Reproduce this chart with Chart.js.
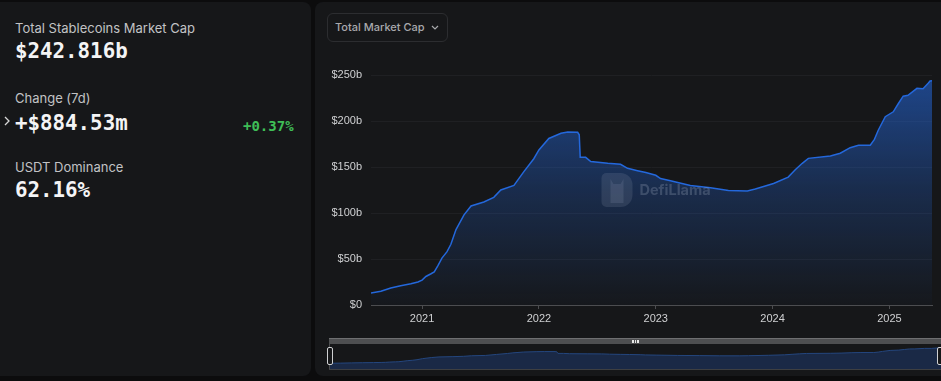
<!DOCTYPE html>
<html>
<head>
<meta charset="utf-8">
<script src="https://cdn.jsdelivr.net/npm/chart.js@4.4.1/dist/chart.umd.min.js"></script>
<style>
  html, body { margin:0; padding:0; background:#0c0c0d; width:941px; height:381px; overflow:hidden; }
  .card { position:absolute; background:#161719; border-radius:8px; }
  .lbl { position:absolute; left:15px; font-family:Inter, sans-serif; font-size:13px; line-height:1; color:#c2c3c5; white-space:nowrap; }
  .val { position:absolute; left:15px; font-family:"DejaVu Sans Mono", monospace; font-weight:bold; font-size:20.8px; line-height:1; color:#f4f4f5; white-space:nowrap; }
  .pct { position:absolute; left:243px; font-family:"DejaVu Sans Mono", monospace; font-weight:bold; font-size:14px; line-height:1; color:#3fbe57; white-space:nowrap; }
  .dd { position:absolute; left:327px; top:13px; width:119px; height:27px; border:1px solid #2c2d30; border-radius:6px; box-sizing:content-box; }
  .dd span { position:absolute; left:7px; top:8px; font-family:Inter, sans-serif; font-weight:500; font-size:11px; line-height:1; color:#a8a9ac; white-space:nowrap; }
  canvas { position:absolute; }
</style>
</head>
<body>
<div class="card" style="left:-10px; top:2px; width:321px; height:374px;"></div>
<div class="card" style="left:315px; top:2px; width:640px; height:374px;"></div>

<div class="lbl" style="top:22px;">Total Stablecoins Market Cap</div>
<div class="val" style="top:40.5px;">$242.816b</div>
<div class="lbl" style="top:92px;">Change (7d)</div>
<svg style="position:absolute; left:2px; top:115px;" width="10" height="12"><polyline points="3,2 7,6 3,10" fill="none" stroke="#d8d8d8" stroke-width="1.3"/></svg>
<div class="val" style="top:112.5px;">+$884.53m</div>
<div class="pct" style="top:119.1px;">+0.37%</div>
<div class="lbl" style="top:161px;">USDT Dominance</div>
<div class="val" style="top:180.2px;">62.16%</div>

<div class="dd"><span>Total Market Cap</span>
  <svg style="position:absolute; left:103px; top:11px;" width="8" height="6"><polyline points="1,1 4,4 7,1" fill="none" stroke="#a8a9ac" stroke-width="1.2"/></svg>
</div>

<canvas id="main" width="625" height="280" style="left:316px; top:50px; width:625px; height:280px;"></canvas>

<!-- data zoom slider -->
<div style="position:absolute; left:329px; top:338px; width:614px; height:6px; background:#4e4f51; border-top:1px solid #6e6f71; box-sizing:border-box;"></div>
<div style="position:absolute; left:632px; top:339.5px; width:1.5px; height:3.5px; background:#e8e8e8;"></div>
<div style="position:absolute; left:634.5px; top:339.5px; width:1.5px; height:3.5px; background:#e8e8e8;"></div>
<div style="position:absolute; left:637px; top:339.5px; width:1.5px; height:3.5px; background:#e8e8e8;"></div>
<div style="position:absolute; left:329px; top:344px; width:614px; height:26px; border-left:1px solid #4a4b4d; border-bottom:1px solid #3e3f41; box-sizing:border-box;"></div>
<canvas id="mini" width="611" height="25" style="left:330px; top:344px; width:611px; height:25px;"></canvas>
<div style="position:absolute; left:327px; top:347px; width:6px; height:18px; border:1px solid #cfd0d2; border-radius:2px; background:#161719; box-sizing:border-box;"></div>
<div style="position:absolute; left:937px; top:347px; width:6px; height:18px; border:1px solid #cfd0d2; border-radius:2px; background:#161719; box-sizing:border-box;"></div>

<script>
// ---- data ----
const dates = [
  "2020-07-25","2020-08-25","2020-09-25","2020-10-26","2020-11-27","2020-12-19",
  "2021-01-01","2021-01-13","2021-01-29","2021-02-08","2021-02-20","2021-03-04",
  "2021-03-20","2021-04-01","2021-04-17","2021-05-12","2021-06-03","2021-07-13",
  "2021-08-13","2021-09-04","2021-10-15","2021-11-15","2021-12-16","2022-01-01",
  "2022-02-01","2022-03-11","2022-04-01","2022-05-02","2022-05-07","2022-05-10",
  "2022-05-27","2022-06-12","2022-08-04","2022-09-13","2022-10-05","2022-11-05",
  "2022-12-01","2023-01-01","2023-01-16","2023-02-16","2023-04-19","2023-06-21",
  "2023-08-16","2023-10-14","2023-11-08","2024-01-04","2024-02-19","2024-03-12",
  "2024-04-03","2024-04-22","2024-06-30","2024-07-31","2024-08-31","2024-09-26",
  "2024-11-02","2024-11-15","2024-11-27","2024-12-19","2025-01-13","2025-01-29",
  "2025-02-13","2025-02-28","2025-03-28","2025-04-16","2025-05-02","2025-05-08",
  "2025-05-14"
];
const marketCapB = [
  13, 15, 18.5, 21, 23, 25,
  27, 31, 34, 36, 43, 51,
  58, 66, 82, 98, 107.6, 112,
  117, 125, 130, 145, 159, 168.5,
  181, 186.6, 188, 187.7, 185, 160.5,
  160.5, 156, 154, 153, 148.6, 146,
  144, 141, 137.5, 135, 130, 127.5,
  124.5, 124, 126, 132, 139, 147,
  154, 159.4, 162, 165, 171, 173.6,
  173.6, 180, 190, 204.7, 210, 219,
  227, 228, 235.5, 235, 241, 243.5,
  243.8
];
const yearTicks = [2021, 2022, 2023, 2024, 2025];
const yTickLabels = ["$0", "$50b", "$100b", "$150b", "$200b", "$250b"];

// ---- helpers ----
function toYear(s) {
  const [y, m, d] = s.split("-").map(Number);
  const a = Date.UTC(y, 0, 1), b = Date.UTC(y + 1, 0, 1);
  return y + (Date.UTC(y, m - 1, d) - a) / (b - a);
}
const points = dates.map((d, i) => ({ x: toYear(d), y: marketCapB[i] }));
const xMin = points[0].x, xMax = points[points.length - 1].x;

const watermark = {
  id: "watermark",
  afterDatasetsDraw(chart) {
    const { ctx, chartArea: a } = chart;
    const cx = (a.left + a.right) / 2, cy = (a.top + a.bottom) / 2;
    ctx.save();
    const lx = cx - 50, ly = cy - 17, w = 31, h = 34;
    ctx.fillStyle = "rgba(190,200,220,0.13)";
    ctx.beginPath();
    ctx.roundRect(lx, ly, w, h, [5, 12, 12, 5]);
    ctx.fill();
    ctx.fillStyle = "rgba(190,200,220,0.12)";
    ctx.beginPath();
    ctx.moveTo(lx + 9, ly + 6);
    ctx.lineTo(lx + 12, ly + 11);
    ctx.lineTo(lx + 19, ly + 11);
    ctx.lineTo(lx + 22, ly + 6);
    ctx.lineTo(lx + 22, ly + 30);
    ctx.lineTo(lx + 9, ly + 30);
    ctx.closePath();
    ctx.fill();
    ctx.font = "bold 14.5px Inter, sans-serif";
    ctx.fillStyle = "rgba(190,200,220,0.22)";
    ctx.textBaseline = "middle";
    ctx.fillText("DefiLlama", cx - 12, cy + 1);
    ctx.restore();
  }
};

Chart.defaults.font.family = "'Liberation Sans', Arial, sans-serif";

new Chart(document.getElementById("main"), {
  type: "line",
  data: {
    datasets: [{
      data: points,
      borderColor: "#2468dc",
      borderWidth: 1.5,
      pointRadius: 0,
      tension: 0,
      fill: "origin",
      backgroundColor(ctx) {
        const a = ctx.chart.chartArea;
        if (!a) return "rgba(36,104,220,0.3)";
        const g = ctx.chart.ctx.createLinearGradient(0, a.top, 0, a.bottom);
        g.addColorStop(0, "rgba(36,100,210,0.62)");
        g.addColorStop(0.5, "rgba(36,100,210,0.28)");
        g.addColorStop(1, "rgba(36,100,210,0.02)");
        return g;
      }
    }]
  },
  options: {
    responsive: false,
    animation: false,
    events: [],
    layout: { padding: { left: 0, right: 9, top: 25, bottom: 0 } },
    plugins: { legend: { display: false }, tooltip: { enabled: false } },
    scales: {
      x: {
        type: "linear",
        min: xMin, max: xMax,
        afterBuildTicks(scale) { scale.ticks = yearTicks.map(v => ({ value: v })); },
        afterFit(scale) { scale.height = 25; },
        ticks: { color: "#cfd0d2", font: { size: 11 }, padding: 3, maxRotation: 0,
                 callback: (v) => String(v) },
        grid: { drawOnChartArea: false, drawTicks: true, tickLength: 4, color: "#4c4d50" },
        border: { display: true, color: "#4c4d50" }
      },
      y: {
        min: 0, max: 250,
        afterBuildTicks(scale) { scale.ticks = yTickLabels.map((_, i) => ({ value: i * 50 })); },
        afterFit(scale) { scale.width = 55; },
        ticks: { color: "#cfd0d2", font: { size: 11 }, padding: 9,
                 callback: (v) => yTickLabels[v / 50] },
        grid: { color: "#1f2023", drawTicks: false },
        border: { display: false }
      }
    }
  },
  plugins: [watermark]
});

new Chart(document.getElementById("mini"), {
  type: "line",
  data: {
    datasets: [{
      data: points,
      borderColor: "#24467e",
      borderWidth: 1,
      pointRadius: 0,
      fill: "start",
      backgroundColor: "#1a2946"
    }]
  },
  options: {
    responsive: false,
    animation: false,
    events: [],
    layout: { padding: 0 },
    plugins: { legend: { display: false }, tooltip: { enabled: false } },
    scales: {
      x: { type: "linear", min: xMin, max: xMax, display: false },
      y: { min: -73, max: 301, display: false }
    }
  }
});
</script>
</body>
</html>
